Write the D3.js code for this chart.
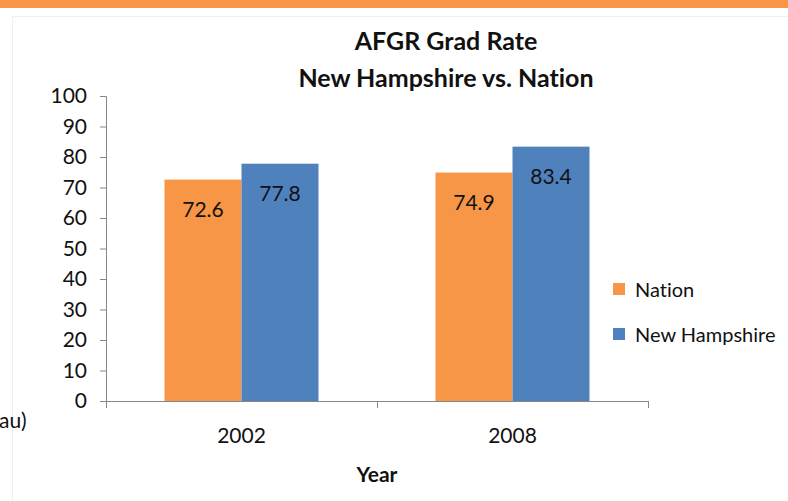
<!DOCTYPE html>
<html>
<head>
<meta charset="utf-8">
<script src="https://cdn.jsdelivr.net/npm/d3@7/dist/d3.min.js"></script>
<style>
  html, body { margin: 0; padding: 0; background: #fff; }
  svg { display: block; }
  text { font-variant-ligatures: none; font-feature-settings: "liga" 0; }
</style>
</head>
<body>
<svg id="chart" width="788" height="501"></svg>
<script>
// chart data
const years = ["2002", "2008"];
const seriesNames = ["Nation", "New Hampshire"];
const nation = [72.6, 74.9];
const newHampshire = [77.8, 83.4];
const yTicks = [0, 10, 20, 30, 40, 50, 60, 70, 80, 90, 100];

const colors = { "Nation": "#f79646", "New Hampshire": "#4f81bd" };
const font = "Lato, 'Open Sans', sans-serif";

const svg = d3.select("#chart");
const width = 788, height = 501;

// slide decoration: orange band and faint frame
svg.append("rect").attr("x", 0).attr("y", 0).attr("width", width).attr("height", 8).attr("fill", "#f79646");
svg.append("line").attr("x1", 12).attr("x2", width).attr("y1", 16.5).attr("y2", 16.5).attr("stroke", "#f0f0f0");
svg.append("line").attr("x1", 12.5).attr("x2", 12.5).attr("y1", 16).attr("y2", height).attr("stroke", "#f0f0f0");

const x = d3.scaleBand().domain(years).range([106, 648]).paddingInner(0).paddingOuter(0);
const xInner = d3.scaleBand().domain(seriesNames).range([0, x.bandwidth()]).paddingInner(0).paddingOuter(0.76);
const y = d3.scaleLinear().domain([0, 100]).range([401, 96]);

const rows = years.map((yr, i) => ({ year: yr, values: [
    { name: "Nation", value: nation[i] },
    { name: "New Hampshire", value: newHampshire[i] }
]}));

// bars
const groups = svg.selectAll("g.year")
    .data(rows)
    .join("g")
    .attr("class", "year")
    .attr("transform", d => `translate(${x(d.year)},0)`);

groups.selectAll("rect")
    .data(d => d.values)
    .join("rect")
    .attr("x", d => xInner(d.name))
    .attr("y", d => y(d.value))
    .attr("width", xInner.bandwidth())
    .attr("height", d => y(0) - y(d.value))
    .attr("fill", d => colors[d.name]);

groups.selectAll("text")
    .data(d => d.values)
    .join("text")
    .attr("x", d => xInner(d.name) + xInner.bandwidth() / 2)
    .attr("y", d => y(d.value) + 37)
    .attr("text-anchor", "middle")
    .attr("font-family", font)
    .attr("font-size", "21px")
    .attr("fill", "#111")
    .text(d => d.value);

// y axis
const yAxis = svg.append("g")
    .attr("transform", "translate(106,0)")
    .call(d3.axisLeft(y).tickValues(yTicks).tickSize(6).tickPadding(13));
yAxis.select(".domain").attr("stroke", "#868686").attr("d", "M-6,96.5H0.5V401.5");
yAxis.selectAll(".tick line").attr("stroke", "#868686");
yAxis.selectAll(".tick text").attr("font-family", font).attr("font-size", "21px").attr("fill", "#111");

// x axis with boundary ticks
const xAxis = svg.append("g").attr("transform", "translate(0,401)");
xAxis.append("line").attr("x1", 106).attr("x2", 648).attr("y1", 0.5).attr("y2", 0.5).attr("stroke", "#868686");
const boundaries = years.map(d => x(d)).concat([x(years[years.length - 1]) + x.bandwidth()]);
xAxis.selectAll("line.tick")
    .data(boundaries)
    .join("line")
    .attr("class", "tick")
    .attr("x1", d => Math.round(d) + 0.5).attr("x2", d => Math.round(d) + 0.5)
    .attr("y1", 0).attr("y2", 7)
    .attr("stroke", "#868686");
xAxis.selectAll("text")
    .data(years)
    .join("text")
    .attr("x", d => x(d) + x.bandwidth() / 2)
    .attr("y", 42)
    .attr("text-anchor", "middle")
    .attr("font-family", font)
    .attr("font-size", "21px")
    .attr("fill", "#111")
    .text(d => d);

// axis title
svg.append("text")
    .attr("x", 377).attr("y", 482)
    .attr("text-anchor", "middle")
    .attr("font-family", font).attr("font-size", "21px").attr("font-weight", "bold")
    .attr("fill", "#111")
    .text("Year");

// chart title
const title = svg.append("text")
    .attr("text-anchor", "middle")
    .attr("font-family", font).attr("font-size", "25px").attr("font-weight", "bold")
    .attr("fill", "#111");
title.append("tspan").attr("x", 446).attr("y", 50).text("AFGR Grad Rate");
title.append("tspan").attr("x", 446).attr("y", 87).text("New Hampshire vs. Nation");

// clipped text at the left edge
svg.append("text")
    .attr("x", -1).attr("y", 428)
    .attr("font-family", font).attr("font-size", "21px").attr("fill", "#111")
    .text("au)");

// legend
const legend = svg.append("g").attr("transform", "translate(613,283)");
const items = legend.selectAll("g")
    .data(seriesNames)
    .join("g")
    .attr("transform", (d, i) => `translate(0,${i * 45})`);
items.append("rect").attr("width", 12).attr("height", 12).attr("fill", d => colors[d]);
items.append("text")
    .attr("x", 22).attr("y", 14)
    .attr("font-family", font).attr("font-size", "20px").attr("fill", "#111")
    .text(d => d);
</script>
</body>
</html>
